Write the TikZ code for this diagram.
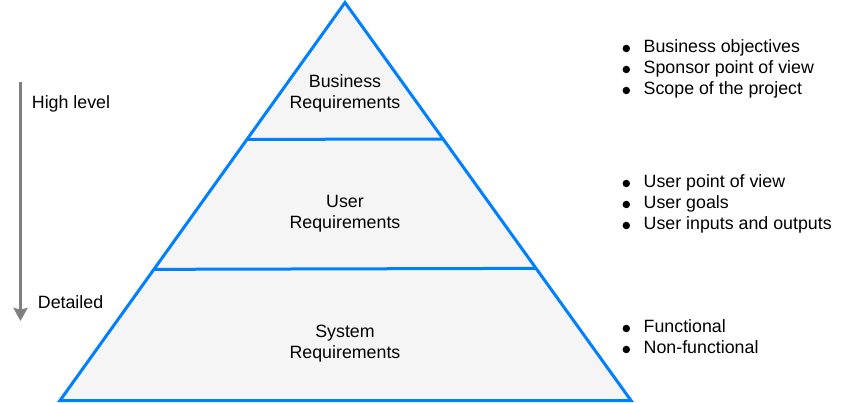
\documentclass[tikz,border=0pt]{standalone}
\usepackage{fontspec}
\setmainfont{Liberation Sans}
\usetikzlibrary{arrows.meta,calc}
\definecolor{pyrblue}{HTML}{007FFF}
\definecolor{pyrfill}{HTML}{F5F5F5}
\definecolor{arrgray}{HTML}{808080}
\begin{document}
\begin{tikzpicture}[x=1pt,y=-1pt,
  lbl/.style={inner sep=0pt, font=\fontsize{17.8}{21}\selectfont, text=black},
  ctr/.style={lbl, anchor=base},
  lft/.style={lbl, anchor=base west},
  tier/.style={draw=pyrblue, line width=3pt, fill=pyrfill, line join=miter},
  divider/.style={draw=pyrblue, line width=3pt},
  dot/.style={circle, fill=black, inner sep=0pt, minimum size=7.5pt},
  levelarrow/.style={draw=arrgray, line width=3pt, -{Stealth[length=13pt,width=14pt,inset=1.5pt]}}]
\useasboundingbox (0,0) rectangle (841,403);
% pyramid
\coordinate (apex) at (345,2.5);
\coordinate (bl) at (60,400.5);
\coordinate (br) at (631,400.5);
\draw[tier] (apex) -- (br) -- (bl) -- cycle;
\coordinate (d1l) at ($(apex)!0.344!(bl)$);
\coordinate (d1r) at ($(apex)!0.343!(br)$);
\coordinate (d2l) at ($(apex)!0.6705!(bl)$);
\coordinate (d2r) at ($(apex)!0.668!(br)$);
\draw[divider] (d1l) -- (d1r);
\draw[divider] (d2l) -- (d2r);
% tier labels
\node[ctr] (biz1) at (345,88) {Business};
\node[ctr] (biz2) at (345,109) {Requirements};
\node[ctr] (usr1) at (345,208) {User};
\node[ctr] (usr2) at (345,229) {Requirements};
\node[ctr] (sys1) at (345,338) {System};
\node[ctr] (sys2) at (345,359) {Requirements};
% level arrow
\coordinate (atop) at (20.5,82);
\coordinate (abot) at (20.5,321);
\draw[levelarrow] (atop) -- (abot);
\node[lft] (high) at (31.7,109) {High level};
\node[lft] (det) at (37.7,309) {Detailed};
% bullet lists
\foreach \n/\y/\t in {b1/53/Business objectives, b2/74/Sponsor point of view, b3/95/Scope of the project,
  u1/188/User point of view, u2/209/User goals, u3/230/User inputs and outputs,
  s1/333/Functional, s2/354/Non-functional}{
  \node[dot] (\n dot) at (626.3,\y-4.5) {};
  \node[lft] (\n) at (643.5,\y) {\t};
}
\end{tikzpicture}
\end{document}
